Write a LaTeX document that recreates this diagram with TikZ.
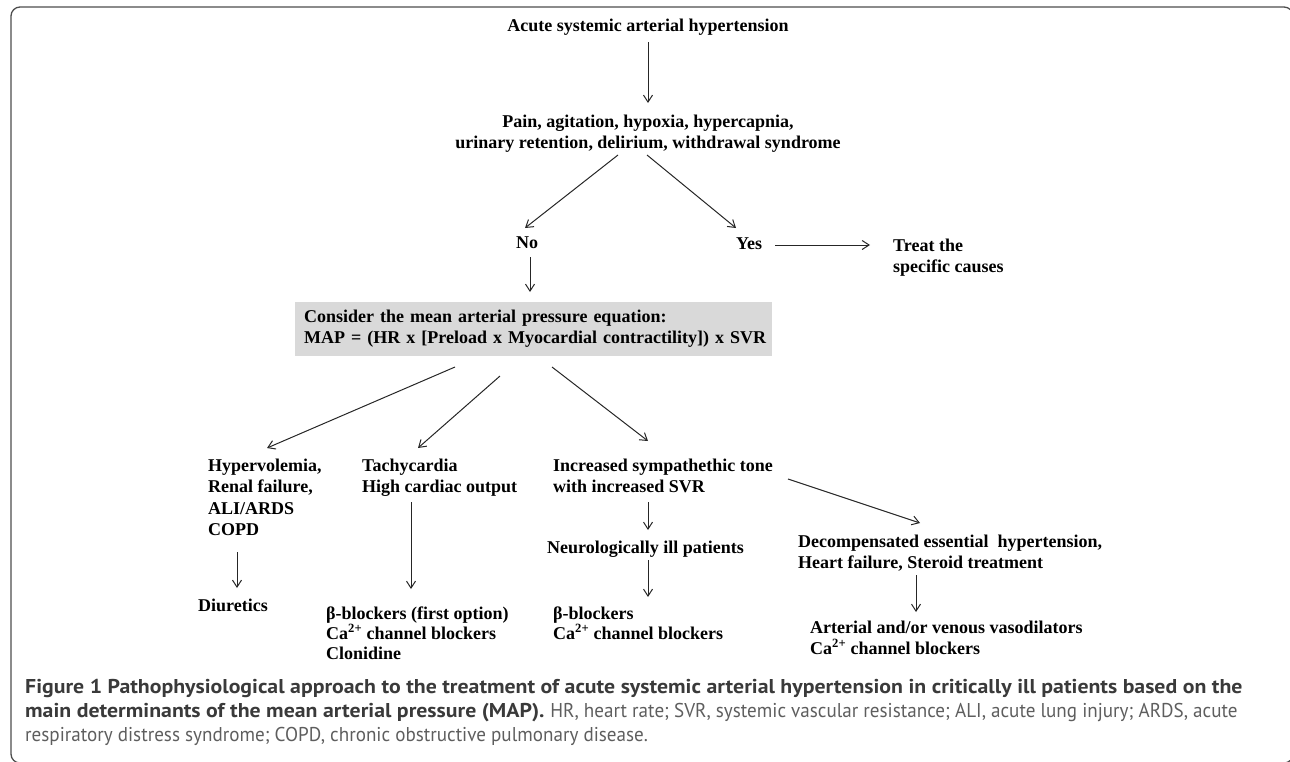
\documentclass[tikz,border=0pt]{standalone}
\usepackage{fontspec}
\setmainfont{Liberation Serif}
\newfontfamily\capfont[FakeStretch=1.09]{PT Sans}
\newfontfamily\capfontlight[FakeStretch=0.955]{PT Sans}
\usetikzlibrary{arrows.meta,calc}
\definecolor{boxgray}{HTML}{D9D9D9}
\definecolor{framegray}{HTML}{4D4D4D}
\definecolor{capdark}{HTML}{3A3A3A}
\definecolor{caplight}{HTML}{5E5E5E}
\begin{document}
\begin{tikzpicture}[x=1pt,y=-1pt,
  lbl/.style={inner sep=0pt, font=\bfseries\fontsize{18}{21}\selectfont, align=left},
  clbl/.style={lbl, align=center},
  arr/.style={-{Straight Barb[length=7pt,width=9pt,line width=1pt]}, line width=1pt, draw=black!85}
]
\useasboundingbox (0,0) rectangle (1290,761);
\draw[framegray, line width=1.3pt, rounded corners=9pt] (11,7) rectangle (1293,763);

% multi-line nodes: base anchor = baseline of last line
\node[clbl, anchor=base] (title) at (648,31) {Acute systemic arterial hypertension};
\node[clbl, anchor=base] (pain) at (648,148) {Pain, agitation, hypoxia, hypercapnia,\\urinary retention, delirium, withdrawal syndrome};
\node[clbl, anchor=base] (no) at (527,248) {No};
\node[clbl, anchor=base] (yes) at (749,249) {Yes};
\node[lbl, anchor=base west] (treat) at (893,272) {Treat the\\specific causes};
\node[lbl, anchor=north west, fill=boxgray, inner xsep=9pt, inner ysep=8pt, text width=459pt, minimum height=53pt] (map) at (295,302) {Consider the mean arterial pressure equation:\\\mbox{MAP = (HR x [Preload x Myocardial contractility]) x SVR}};

\node[lbl, anchor=base west, font=\bfseries\fontsize{18}{21.5}\selectfont] (hyper) at (208,535.5) {Hypervolemia,\\Renal failure,\\ALI/ARDS\\COPD};
\node[lbl, anchor=base west] (tachy) at (362,492) {Tachycardia\\High cardiac output};
\node[lbl, anchor=base west] (symp) at (553,492) {Increased sympathethic tone\\with increased SVR};
\node[lbl, anchor=base west] (neuro) at (547,553) {Neurologically ill patients};
\node[lbl, anchor=base west] (decomp) at (798,568) {Decompensated essential\ \ hypertension,\\Heart failure, Steroid treatment};
\node[lbl, anchor=base west] (diur) at (198,611) {Diuretics};
\node[lbl, anchor=base west, font=\bfseries\fontsize{18}{20}\selectfont] (tachytx) at (326,659) {β-blockers (first option)\\Ca\textsuperscript{2+} channel blockers\\Clonidine};
\node[lbl, anchor=base west, font=\bfseries\fontsize{18}{20}\selectfont] (symptx) at (553,639) {β-blockers\\Ca\textsuperscript{2+} channel blockers};
\node[lbl, anchor=base west] (vaso) at (810,654) {Arterial and/or venous vasodilators\\Ca\textsuperscript{2+} channel blockers};

\draw[arr] ($(title.base)+(0,11)$) -- ($(pain.base)+(0,-45)$);
\draw[arr] ($(pain.base)+(-30,7)$) -- ($(no.base)+(-2,-20)$);
\draw[arr] ($(pain.base)+(-1,7)$) -- ($(yes.base)+(-13,-21)$);
\draw[arr] ($(yes.base)+(26,-4)$) -- ($(treat.base west)+(-23,-27)$);
\draw[arr] ($(no.base)+(3,9)$) -- ($(map.north west)+(235,-10)$);
\draw[arr] ($(map.north west)+(160,65)$) -- ($(hyper.base west)+(59,-87.5)$);
\draw[arr] ($(map.north west)+(205,74)$) -- ($(tachy.base west)+(56,-44)$);
\draw[arr] ($(map.north west)+(257,65)$) -- ($(symp.base west)+(95,-51)$);
\draw[arr] ($(hyper.base west)+(29,16.5)$) -- ($(diur.base west)+(39,-23)$);
\draw[arr] ($(tachy.base west)+(49,10)$) -- ($(tachytx.base west)+(85,-70)$);
\draw[arr] ($(symp.base west)+(95,10)$) -- ($(neuro.base west)+(101,-23)$);
\draw[arr] ($(neuro.base west)+(101,7)$) -- ($(symptx.base west)+(95,-42)$);
\draw[arr] ($(symp.base west)+(235,-13)$) -- ($(decomp.base west)+(122,-45)$);
\draw[arr] ($(decomp.base west)+(118,7)$) -- ($(vaso.base west)+(106,-42)$);

\node[anchor=base west, inner sep=0pt, align=left, font=\capfont\fontsize{20}{24}\selectfont] (cap) at (25,741) {\textcolor{capdark}{\bfseries Figure 1 Pathophysiological approach to the treatment of acute systemic arterial hypertension in critically ill patients based on the}\\\textcolor{capdark}{\bfseries main determinants of the mean arterial pressure (MAP).} \textcolor{caplight}{\capfontlight HR, heart rate; SVR, systemic vascular resistance; ALI, acute lung injury; ARDS, acute}\\\textcolor{caplight}{\capfontlight respiratory distress syndrome; COPD, chronic obstructive pulmonary disease.}};
\end{tikzpicture}
\end{document}
